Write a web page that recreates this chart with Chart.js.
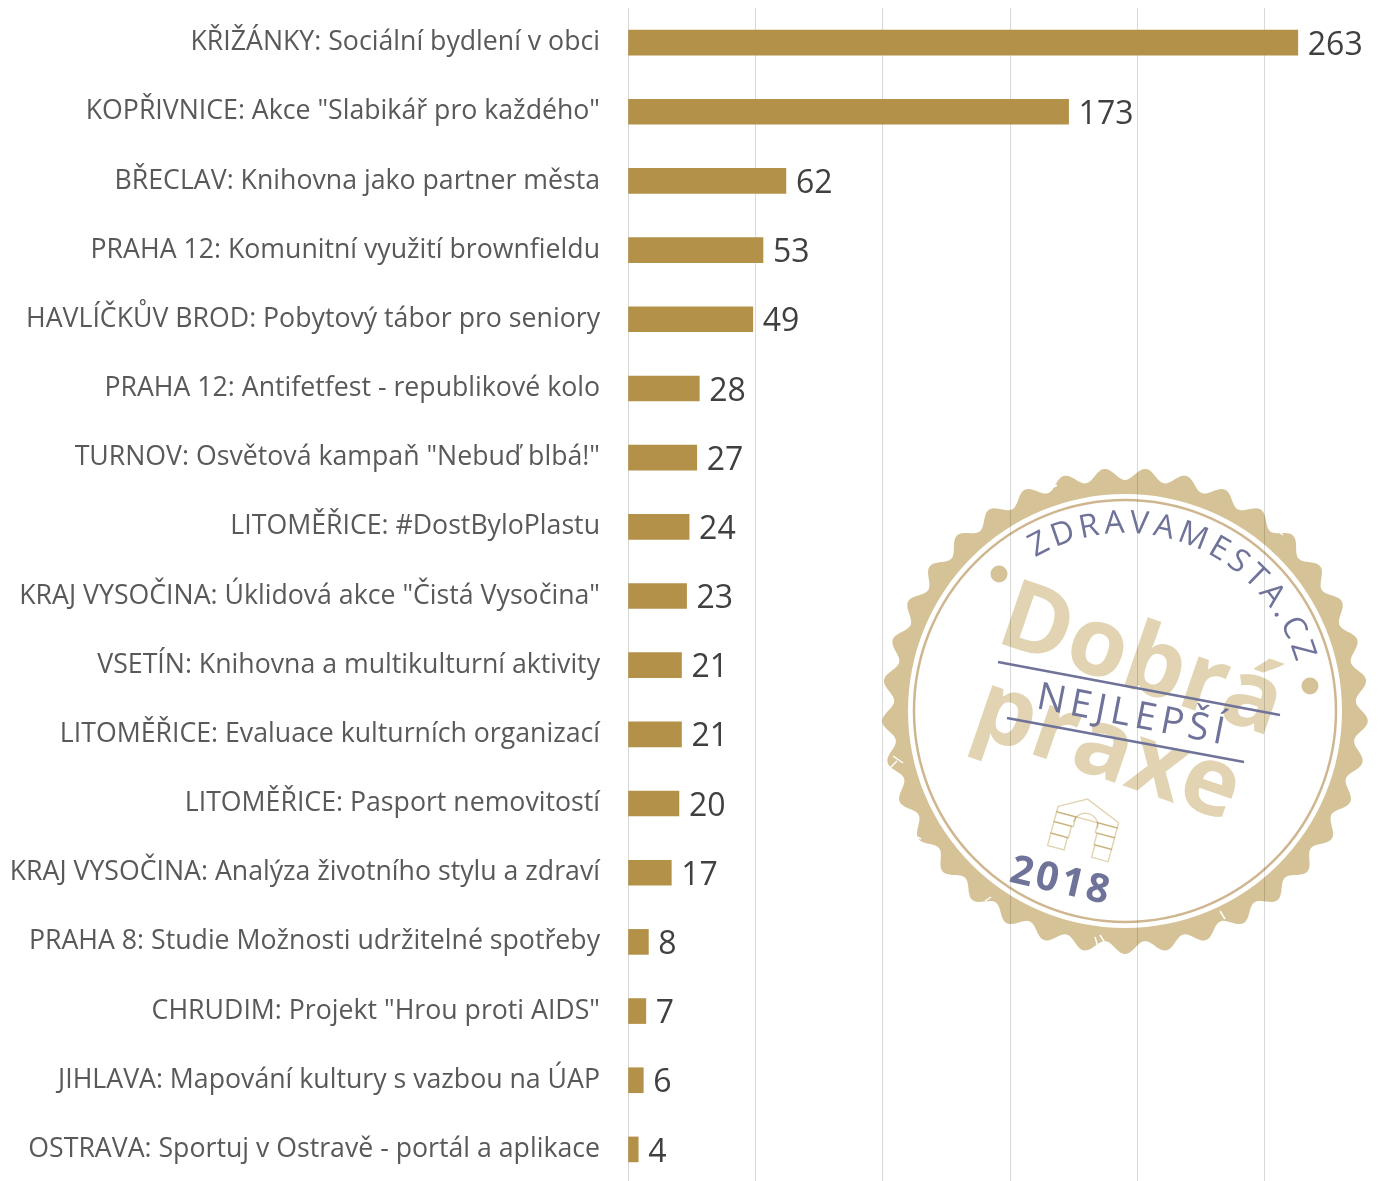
<!DOCTYPE html>
<html lang="cs">
<head>
<meta charset="utf-8">
<title>Dobrá praxe 2018</title>
<script src="https://cdn.jsdelivr.net/npm/chart.js@4"></script>
<style>
  html, body { margin: 0; padding: 0; background: #fff; height: 1181px; overflow: hidden; }
  #wrap { width: 1389px; height: 1184px; }
</style>
</head>
<body>
<div id="wrap"><canvas id="practiceChart"></canvas></div>
<script>
const categories = [
  'KŘIŽÁNKY: Sociální bydlení v obci',
  'KOPŘIVNICE: Akce "Slabikář pro každého"',
  'BŘECLAV: Knihovna jako partner města',
  'PRAHA 12: Komunitní využití brownfieldu',
  'HAVLÍČKŮV BROD: Pobytový tábor pro seniory',
  'PRAHA 12: Antifetfest - republikové kolo',
  'TURNOV: Osvětová kampaň "Nebuď blbá!"',
  'LITOMĚŘICE: #DostByloPlastu',
  'KRAJ VYSOČINA: Úklidová akce "Čistá Vysočina"',
  'VSETÍN: Knihovna a multikulturní aktivity',
  'LITOMĚŘICE: Evaluace kulturních organizací',
  'LITOMĚŘICE: Pasport nemovitostí',
  'KRAJ VYSOČINA: Analýza životního stylu a zdraví',
  'PRAHA 8: Studie Možnosti udržitelné spotřeby',
  'CHRUDIM: Projekt "Hrou proti AIDS"',
  'JIHLAVA: Mapování kultury s vazbou na ÚAP',
  'OSTRAVA: Sportuj v Ostravě - portál a aplikace'
];
const votes = [263, 173, 62, 53, 49, 28, 27, 24, 23, 21, 21, 20, 17, 8, 7, 6, 4];
const xTicks = [0, 50, 100, 150, 200, 250];

const FONT = '"Open Sans", "Noto Sans", sans-serif';
const TAN = '#d5c397';
const TAN_LIGHT = '#e2d4b2';
const NAVY = '#6f7399';

// popisky hodnot za koncem sloupce
const valueLabels = {
  id: 'valueLabels',
  afterDatasetsDraw(chart) {
    const ctx = chart.ctx;
    ctx.save();
    ctx.font = `32px ${FONT}`;
    ctx.fillStyle = '#404040';
    ctx.textAlign = 'left';
    ctx.textBaseline = 'middle';
    chart.getDatasetMeta(0).data.forEach((bar, i) => {
      ctx.fillText(String(votes[i]), bar.x + 10, bar.y + 3);
    });
    ctx.restore();
  }
};

function drawRing(ctx) {
  ctx.beginPath();
  for (let a = 0; a <= 720; a++) {
    const t = a / 720 * Math.PI * 2;
    const r = 237 + 6 * Math.sin(37 * t);
    ctx.lineTo(r * Math.cos(t), r * Math.sin(t));
  }
  ctx.closePath();
  ctx.moveTo(217, 0);
  ctx.arc(0, 0, 217, 0, Math.PI * 2, true);
  ctx.fillStyle = TAN;
  ctx.fill('evenodd');

  ctx.beginPath();
  ctx.arc(0, 0, 211, 0, Math.PI * 2);
  ctx.strokeStyle = '#cfb68f';
  ctx.lineWidth = 2.5;
  ctx.stroke();

  ctx.fillStyle = TAN;
  [[-126, -137], [185, -25]].forEach(([x, y]) => {
    ctx.beginPath();
    ctx.arc(x, y, 8.5, 0, Math.PI * 2);
    ctx.fill();
  });
}

// oprysky na okraji razitka
function drawScuffs(ctx) {
  ctx.strokeStyle = '#fff';
  ctx.lineWidth = 1.5;
  [[-232, 45, -222, 52], [-228, 50, -236, 58], [-195, -160, -186, -170], [-210, 125, -204, 128],
   [150, -183, 158, -176], [200, 150, 206, 144], [-140, 190, -134, 186], [-30, 226, -27, 236],
   [-25, 224, -20, 232], [95, 200, 100, 208], [218, -90, 224, -84], [-75, -222, -68, -226]].forEach(([x1, y1, x2, y2]) => {
    ctx.beginPath();
    ctx.moveTo(x1, y1);
    ctx.lineTo(x2, y2);
    ctx.stroke();
  });
}

function drawHouse(ctx) {
  ctx.save();
  ctx.translate(-40, 116);
  ctx.rotate(15 * Math.PI / 180);
  ctx.scale(0.95, 0.92);
  ctx.strokeStyle = TAN_LIGHT;
  ctx.lineWidth = 1.5;
  const parts = [
    [[-33, -14], [-5, -30], [33, -14], [33, -8], [-33, -8]],
    [[-33, -8], [-12, -8], [-12, 3], [-33, 3]],
    [[12, -8], [33, -8], [33, 3], [12, 3]],
    [[-33, 3], [-14, 3], [-14, 16], [-33, 16]],
    [[14, 3], [33, 3], [33, 16], [14, 16]],
    [[-33, 16], [-15, 16], [-15, 30], [-33, 30]],
    [[15, 16], [33, 16], [33, 30], [15, 30]]
  ];
  parts.forEach(p => {
    ctx.beginPath();
    p.forEach(([x, y]) => ctx.lineTo(x, y));
    ctx.closePath();
    ctx.stroke();
  });
  ctx.beginPath();
  ctx.arc(0, -2, 13, Math.PI, 0);
  ctx.stroke();
  ctx.restore();
}

function drawArcText(ctx) {
  const text = 'ZDRAVAMESTA.CZ';
  ctx.font = `32px ${FONT}`;
  ctx.fillStyle = NAVY;
  ctx.textAlign = 'center';
  ctx.textBaseline = 'alphabetic';
  let angle = -31;
  for (const ch of text) {
    const step = (ctx.measureText(ch).width + 4.2) / 178 * 180 / Math.PI;
    angle += step / 2;
    ctx.save();
    ctx.rotate(angle * Math.PI / 180);
    ctx.fillText(ch, 0, -178);
    ctx.restore();
    angle += step / 2;
  }
}

function drawLabel(ctx, text, x, y, deg, font, color, spacing) {
  ctx.save();
  ctx.translate(x, y);
  ctx.rotate(deg * Math.PI / 180);
  ctx.font = font;
  ctx.fillStyle = color;
  ctx.letterSpacing = spacing;
  ctx.textAlign = 'center';
  ctx.textBaseline = 'middle';
  ctx.fillText(text, 0, 0);
  ctx.restore();
}

// razitko "Dobra praxe" pres graf
const stamp = {
  id: 'stamp',
  afterDraw(chart) {
    const ctx = chart.ctx;
    ctx.save();
    ctx.translate(1125, 711);
    ctx.globalCompositeOperation = 'multiply';
    drawRing(ctx);
    drawLabel(ctx, 'Dobrá', 16, -48, 19, `bold 96px ${FONT}`, TAN_LIGHT, '0px');
    drawLabel(ctx, 'praxe', -18, 40, 19, `bold 96px ${FONT}`, TAN_LIGHT, '0px');
    drawHouse(ctx);
    ctx.globalCompositeOperation = 'source-over';
    drawScuffs(ctx);

    ctx.strokeStyle = NAVY;
    ctx.lineWidth = 2.5;
    [[-127, -49, 155, 4], [-118, 7, 119, 51]].forEach(([x1, y1, x2, y2]) => {
      ctx.beginPath();
      ctx.moveTo(x1, y1);
      ctx.lineTo(x2, y2);
      ctx.stroke();
    });
    drawLabel(ctx, 'NEJLEPŠÍ', 8, 5, 11, `38px ${FONT}`, NAVY, '5px');
    drawLabel(ctx, '2018', -64, 171, 13, `bold 40px ${FONT}`, NAVY, '3px');
    drawArcText(ctx);
    ctx.restore();
  }
};

const noPadding = scale => {
  scale.paddingTop = 0;
  scale.paddingBottom = 0;
  scale.paddingLeft = 0;
  scale.paddingRight = 0;
};

new Chart(document.getElementById('practiceChart'), {
  type: 'bar',
  data: {
    labels: categories,
    datasets: [{
      data: votes,
      backgroundColor: '#b39149',
      barThickness: 25
    }]
  },
  plugins: [valueLabels, stamp],
  options: {
    indexAxis: 'y',
    responsive: true,
    maintainAspectRatio: false,
    animation: false,
    layout: { padding: { top: 8, left: 0, right: 0, bottom: 0 } },
    plugins: {
      legend: { display: false },
      tooltip: { enabled: false }
    },
    scales: {
      x: {
        position: 'bottom',
        min: 0,
        max: 298.8,
        afterBuildTicks: scale => { scale.ticks = xTicks.map(v => ({ value: v })); },
        afterFit: scale => { scale.height = 0; noPadding(scale); },
        ticks: { display: false },
        border: { display: false },
        grid: { color: '#d9d9d9', lineWidth: 1, drawTicks: false }
      },
      y: {
        afterFit: scale => { scale.width = 628; noPadding(scale); },
        border: { color: '#d9d9d9', width: 1 },
        grid: { display: false, drawTicks: false },
        ticks: {
          color: '#595959',
          autoSkip: false,
          padding: 28,
          font: { family: FONT, size: 26.7 }
        }
      }
    }
  }
});
</script>
</body>
</html>
